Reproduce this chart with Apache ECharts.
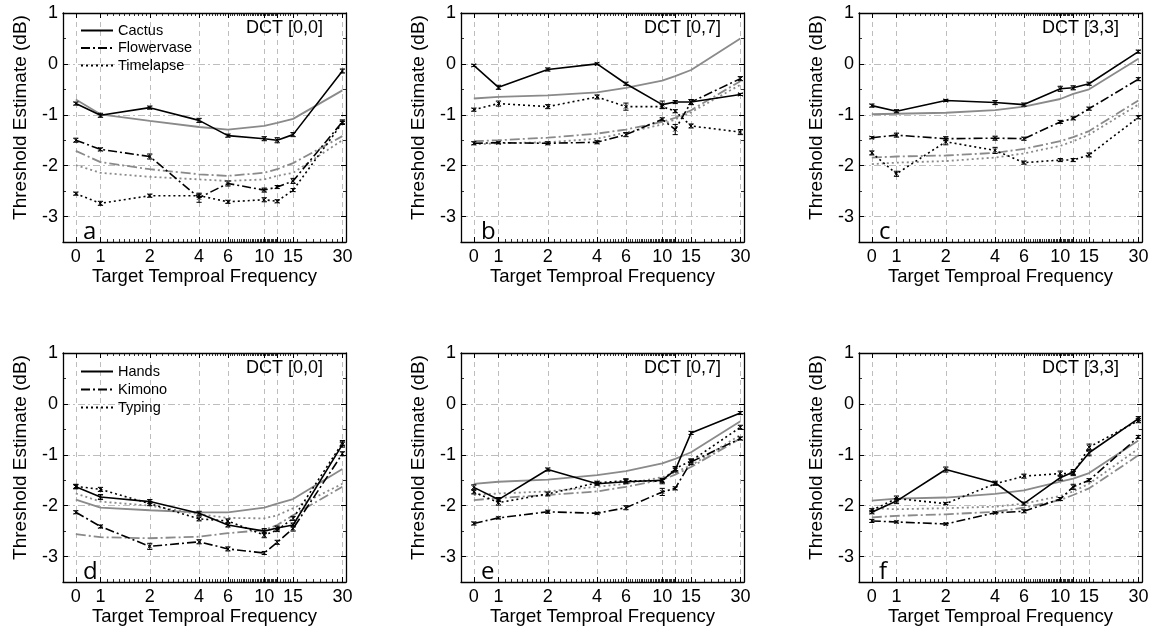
<!DOCTYPE html>
<html><head><meta charset="utf-8">
<script src="https://cdn.jsdelivr.net/npm/echarts@6/dist/echarts.min.js"></script>
<style>html,body{margin:0;padding:0;background:#fff}#c{width:1155px;height:632px}</style>
</head><body><div id="c"></div>
<script>
// ---------- categories / ticks ----------
const freqs = [0, 1, 2, 4, 6, 10, 12, 15, 30];
const majorTickFreqs = [0, 1, 2, 4, 6, 10, 12, 15, 30];
const labelFreqs = [0, 1, 2, 4, 6, 10, 15, 30];
const yTicks = [-3, -2, -1, 0, 1];
const yMinorTicks = [-3.5, -2.5, -1.5, -0.5, 0.5];
const dctTitles = ['DCT [0,0]', 'DCT [0,7]', 'DCT [3,3]', 'DCT [0,0]', 'DCT [0,7]', 'DCT [3,3]'];
const panelLetters = ['a', 'b', 'c', 'd', 'e', 'f'];
const topVideos = ['Cactus', 'Flowervase', 'Timelapse'];
const bottomVideos = ['Hands', 'Kimono', 'Typing'];

// ---------- panel a ----------
const a_cactus = [-0.78, -1.01, -0.86, -1.11, -1.41, -1.47, -1.50, -1.39, -0.14];
const a_cactus_err = [0.03, 0.04, 0.03, 0.04, 0.03, 0.04, 0.05, 0.04, 0.04];
const a_flower = [-1.50, -1.68, -1.82, -2.63, -2.35, -2.48, -2.42, -2.30, -1.14];
const a_flower_err = [0.04, 0.03, 0.05, 0.09, 0.05, 0.04, 0.03, 0.05, 0.04];
const a_time = [-2.55, -2.74, -2.59, -2.59, -2.71, -2.67, -2.70, -2.48, -1.16];
const a_time_err = [0.03, 0.04, 0.03, 0.03, 0.03, 0.04, 0.03, 0.03, 0.03];
const a_cactus_fit = [-0.70, -0.99, -1.12, -1.24, -1.29, -1.22, -1.16, -1.08, -0.52];
const a_flower_fit = [-1.71, -1.93, -2.07, -2.17, -2.20, -2.14, -2.07, -1.95, -1.42];
const a_time_fit = [-1.99, -2.14, -2.22, -2.27, -2.30, -2.27, -2.20, -2.14, -1.50];

// ---------- panel b ----------
const b_cactus = [-0.03, -0.46, -0.11, 0.00, -0.39, -0.80, -0.75, -0.75, -0.60];
const b_cactus_err = [0.02, 0.04, 0.03, 0.02, 0.03, 0.07, 0.03, 0.05, 0.02];
const b_flower = [-1.56, -1.55, -1.56, -1.54, -1.39, -1.09, -1.29, -0.75, -0.29];
const b_flower_err = [0.03, 0.02, 0.03, 0.03, 0.04, 0.03, 0.10, 0.05, 0.04];
const b_time = [-0.90, -0.78, -0.84, -0.65, -0.84, -0.84, -0.93, -1.22, -1.34];
const b_time_err = [0.03, 0.05, 0.04, 0.04, 0.07, 0.04, 0.03, 0.04, 0.05];
const b_cactus_fit = [-0.68, -0.65, -0.62, -0.56, -0.47, -0.33, -0.24, -0.12, 0.50];
const b_flower_fit = [-1.52, -1.50, -1.45, -1.37, -1.29, -1.14, -1.06, -0.91, -0.34];
const b_time_fit = [-1.58, -1.56, -1.54, -1.47, -1.35, -1.19, -1.09, -0.95, -0.41];

// ---------- panel c ----------
const c_cactus = [-0.82, -0.93, -0.72, -0.76, -0.80, -0.49, -0.47, -0.39, 0.24];
const c_cactus_err = [0.03, 0.03, 0.02, 0.04, 0.03, 0.05, 0.04, 0.03, 0.03];
const c_flower = [-1.45, -1.40, -1.47, -1.46, -1.47, -1.14, -1.07, -0.88, -0.30];
const c_flower_err = [0.02, 0.04, 0.04, 0.04, 0.03, 0.03, 0.03, 0.03, 0.03];
const c_time = [-1.75, -2.16, -1.53, -1.70, -1.94, -1.89, -1.89, -1.79, -1.05];
const c_time_err = [0.04, 0.05, 0.06, 0.06, 0.03, 0.03, 0.03, 0.04, 0.03];
const c_cactus_fit = [-0.99, -0.98, -0.96, -0.91, -0.84, -0.69, -0.59, -0.50, 0.10];
const c_flower_fit = [-1.84, -1.82, -1.80, -1.75, -1.67, -1.52, -1.44, -1.32, -0.72];
const c_time_fit = [-1.97, -1.94, -1.91, -1.84, -1.76, -1.61, -1.52, -1.39, -0.80];

// ---------- panel d ----------
const d_hands = [-1.63, -1.83, -1.92, -2.15, -2.38, -2.50, -2.44, -2.38, -0.80];
const d_hands_err = [0.04, 0.05, 0.04, 0.04, 0.04, 0.05, 0.04, 0.04, 0.05];
const d_kimono = [-2.13, -2.41, -2.80, -2.71, -2.85, -2.93, -2.72, -2.45, -0.98];
const d_kimono_err = [0.03, 0.03, 0.06, 0.04, 0.04, 0.03, 0.04, 0.05, 0.04];
const d_typing = [-1.62, -1.68, -1.96, -2.26, -2.30, -2.58, -2.48, -2.25, -0.77];
const d_typing_err = [0.04, 0.04, 0.04, 0.04, 0.04, 0.05, 0.03, 0.04, 0.05];
const d_hands_fit = [-1.88, -2.04, -2.09, -2.13, -2.13, -2.04, -1.96, -1.87, -1.28];
const d_kimono_fit = [-2.56, -2.62, -2.64, -2.61, -2.54, -2.48, -2.38, -2.19, -1.63];
const d_typing_fit = [-1.76, -1.92, -2.00, -2.17, -2.24, -2.25, -2.19, -2.05, -1.57];

// ---------- panel e ----------
const e_hands = [-1.64, -1.88, -1.29, -1.57, -1.53, -1.50, -1.30, -0.57, -0.18];
const e_hands_err = [0.05, 0.04, 0.03, 0.03, 0.04, 0.04, 0.04, 0.03, 0.03];
const e_kimono = [-2.35, -2.24, -2.12, -2.15, -2.04, -1.73, -1.66, -1.14, -0.68];
const e_kimono_err = [0.03, 0.02, 0.03, 0.02, 0.04, 0.07, 0.03, 0.05, 0.03];
const e_typing = [-1.73, -1.94, -1.77, -1.55, -1.51, -1.52, -1.27, -1.12, -0.46];
const e_typing_err = [0.04, 0.05, 0.04, 0.03, 0.04, 0.05, 0.04, 0.04, 0.04];
const e_hands_fit = [-1.57, -1.53, -1.49, -1.40, -1.32, -1.17, -1.08, -0.95, -0.34];
const e_kimono_fit = [-1.89, -1.85, -1.79, -1.72, -1.63, -1.49, -1.39, -1.24, -0.68];
const e_typing_fit = [-1.79, -1.76, -1.72, -1.63, -1.57, -1.44, -1.34, -1.21, -0.61];

// ---------- panel f ----------
const f_hands = [-2.13, -1.91, -1.29, -1.55, -1.96, -1.45, -1.34, -0.96, -0.29];
const f_hands_err = [0.03, 0.05, 0.05, 0.03, 0.03, 0.05, 0.05, 0.06, 0.04];
const f_kimono = [-2.30, -2.32, -2.36, -2.14, -2.11, -1.87, -1.63, -1.50, -0.65];
const f_kimono_err = [0.03, 0.02, 0.02, 0.02, 0.03, 0.03, 0.05, 0.03, 0.03];
const f_typing = [-2.09, -1.86, -1.96, -1.57, -1.42, -1.37, -1.37, -0.85, -0.33];
const f_typing_err = [0.03, 0.05, 0.02, 0.03, 0.04, 0.05, 0.04, 0.06, 0.04];
const f_hands_fit = [-1.90, -1.86, -1.84, -1.77, -1.70, -1.53, -1.47, -1.36, -0.72];
const f_kimono_fit = [-2.23, -2.20, -2.17, -2.12, -2.04, -1.89, -1.79, -1.66, -1.01];
const f_typing_fit = [-2.05, -2.07, -2.05, -2.02, -1.96, -1.81, -1.72, -1.57, -0.88];

const panels = [
  {names: topVideos, vals: [a_cactus, a_flower, a_time], errs: [a_cactus_err, a_flower_err, a_time_err], fits: [a_cactus_fit, a_flower_fit, a_time_fit]},
  {names: topVideos, vals: [b_cactus, b_flower, b_time], errs: [b_cactus_err, b_flower_err, b_time_err], fits: [b_cactus_fit, b_flower_fit, b_time_fit]},
  {names: topVideos, vals: [c_cactus, c_flower, c_time], errs: [c_cactus_err, c_flower_err, c_time_err], fits: [c_cactus_fit, c_flower_fit, c_time_fit]},
  {names: bottomVideos, vals: [d_hands, d_kimono, d_typing], errs: [d_hands_err, d_kimono_err, d_typing_err], fits: [d_hands_fit, d_kimono_fit, d_typing_fit]},
  {names: bottomVideos, vals: [e_hands, e_kimono, e_typing], errs: [e_hands_err, e_kimono_err, e_typing_err], fits: [e_hands_fit, e_kimono_fit, e_typing_fit]},
  {names: bottomVideos, vals: [f_hands, f_kimono, f_typing], errs: [f_hands_err, f_kimono_err, f_typing_err], fits: [f_hands_fit, f_kimono_fit, f_typing_fit]}
];

// ---------- scale helpers (log frequency axis, 0 drawn at 1/sqrt(2)) ----------
const ZERO_AT = Math.SQRT1_2;
function xPos(f) { return Math.log2(f === 0 ? ZERO_AT : f); }
const X_MIN = -0.76, X_MAX = 4.98;
const majorPos = majorTickFreqs.map(xPos);
const labelPos = labelFreqs.map(xPos);
const minorFreqs = [];
function addRange(a, b, s) { for (let k = 0; a + k * s < b - 1e-9; k++) { const v = +(a + k * s).toFixed(3); if (majorTickFreqs.indexOf(v) < 0) minorFreqs.push(v); } }
addRange(1.1, 2, 0.1); addRange(2.2, 10, 0.2); addRange(10.2, 12, 0.2); addRange(12.5, 15, 0.5); addRange(16, 30, 2);
const minorPos = minorFreqs.map(xPos);
function labelFor(v) {
  for (let i = 0; i < labelFreqs.length; i++) if (Math.abs(labelPos[i] - v) < 1e-6) return String(labelFreqs[i]);
  return '';
}

// ---------- layout ----------
const FONT = 'Liberation Sans, Arial, Helvetica, sans-serif';
const lefts = [63, 461, 859], tops = [13, 353], W = 283, H = 229;
const lineTypes = ['solid', [9, 3, 2, 3], [2, 3]];
const fitTypes = ['solid', [10, 3, 2, 3], [2, 3]];

const grid = [], xAxis = [], yAxis = [], series = [], title = [];
for (let p = 0; p < 6; p++) {
  const L = lefts[p % 3], T = tops[Math.floor(p / 3)];
  grid.push({left: L, top: T, width: W, height: H});
  const axCommon = {gridIndex: p, type: 'value', min: X_MIN, max: X_MAX};
  const blackLine = {onZero: false, lineStyle: {color: '#000', width: 1.3}};
  xAxis.push(Object.assign({}, axCommon, {
    position: 'bottom', axisLine: blackLine,
    axisTick: {inside: true, length: 5, customValues: majorPos, lineStyle: {color: '#000', width: 1}},
    axisLabel: {customValues: labelPos, formatter: labelFor, fontSize: 18, color: '#000', margin: 6, fontFamily: FONT},
    splitLine: {show: true, lineStyle: {color: '#bdbdbd', width: 1, type: [5, 4]}},
    name: 'Target Temproal Frequency', nameLocation: 'middle', nameGap: 25,
    nameTextStyle: {fontSize: 18.5, color: '#000', fontFamily: FONT}
  }));
  xAxis.push(Object.assign({}, axCommon, {
    position: 'bottom', axisLine: {show: false, onZero: false},
    axisTick: {inside: true, length: 3, customValues: minorPos, lineStyle: {color: '#000', width: 0.8}},
    axisLabel: {show: false}, splitLine: {show: false}
  }));
  xAxis.push(Object.assign({}, axCommon, {
    position: 'top', axisLine: blackLine,
    axisTick: {inside: true, length: 5, customValues: majorPos, lineStyle: {color: '#000', width: 1}},
    axisLabel: {show: false}, splitLine: {show: false}
  }));
  xAxis.push(Object.assign({}, axCommon, {
    position: 'top', axisLine: {show: false, onZero: false},
    axisTick: {inside: true, length: 3, customValues: minorPos, lineStyle: {color: '#000', width: 0.8}},
    axisLabel: {show: false}, splitLine: {show: false}
  }));
  const yCommon = {gridIndex: p, type: 'value', min: -3.5, max: 1};
  yAxis.push(Object.assign({}, yCommon, {
    position: 'left', axisLine: blackLine,
    axisTick: {inside: true, length: 5, customValues: yTicks, lineStyle: {color: '#000', width: 1}},
    axisLabel: {customValues: yTicks, fontSize: 18, color: '#000', margin: 5, fontFamily: FONT,
      formatter: v => (v < 0 ? '-' + Math.abs(v) : String(v))},
    splitLine: {show: true, lineStyle: {color: '#bdbdbd', width: 1, type: [7, 3, 2, 3]}},
    name: 'Threshold Estimate (dB)', nameLocation: 'middle', nameGap: 33,
    nameTextStyle: {fontSize: 19, color: '#000', fontFamily: FONT, padding: [0, 0, 0, 20]}
  }));
  yAxis.push(Object.assign({}, yCommon, {
    position: 'left', axisLine: {show: false, onZero: false},
    axisTick: {inside: true, length: 3, customValues: yMinorTicks, lineStyle: {color: '#000', width: 0.8}},
    axisLabel: {show: false}, splitLine: {show: false}
  }));
  yAxis.push(Object.assign({}, yCommon, {
    position: 'right', axisLine: blackLine,
    axisTick: {inside: true, length: 5, customValues: yTicks, lineStyle: {color: '#000', width: 1}},
    axisLabel: {show: false}, splitLine: {show: false}
  }));
  yAxis.push(Object.assign({}, yCommon, {
    position: 'right', axisLine: {show: false, onZero: false},
    axisTick: {inside: true, length: 3, customValues: yMinorTicks, lineStyle: {color: '#000', width: 0.8}},
    axisLabel: {show: false}, splitLine: {show: false}
  }));

  const P = panels[p];
  const xi = p * 4, yi = p * 4;
  for (let s = 0; s < 3; s++) {
    series.push({
      name: P.names[s] + ' fit', type: 'line', xAxisIndex: xi, yAxisIndex: yi, z: 2,
      data: freqs.map((f, i) => [xPos(f), P.fits[s][i]]), symbol: 'none', silent: true,
      lineStyle: {color: '#8a8a8a', width: 1.8, type: fitTypes[s]}
    });
  }
  for (let s = 0; s < 3; s++) {
    series.push({
      name: P.names[s], type: 'line', xAxisIndex: xi, yAxisIndex: yi, z: 4,
      data: freqs.map((f, i) => [xPos(f), P.vals[s][i]]), symbol: 'none',
      itemStyle: {color: '#000'},
      lineStyle: {color: '#000', width: 1.6, type: lineTypes[s]}
    });
    series.push({
      name: P.names[s] + ' err', type: 'custom', xAxisIndex: xi, yAxisIndex: yi, z: 5, silent: true,
      data: freqs.map((f, i) => [xPos(f), P.vals[s][i], P.errs[s][i]]),
      encode: {x: 0, y: 1},
      renderItem: function (params, api) {
        const x = api.value(0), y = api.value(1), e = api.value(2);
        const c = api.coord([x, y]), hi = api.coord([x, y + e]), lo = api.coord([x, y - e]);
        const cw = 2.6, m = 2;
        const st = {stroke: '#000', lineWidth: 1};
        return {type: 'group', children: [
          {type: 'line', shape: {x1: c[0], y1: hi[1], x2: c[0], y2: lo[1]}, style: st},
          {type: 'line', shape: {x1: c[0] - cw, y1: hi[1], x2: c[0] + cw, y2: hi[1]}, style: st},
          {type: 'line', shape: {x1: c[0] - cw, y1: lo[1], x2: c[0] + cw, y2: lo[1]}, style: st},
          {type: 'line', shape: {x1: c[0] - m, y1: c[1] - m, x2: c[0] + m, y2: c[1] + m}, style: st},
          {type: 'line', shape: {x1: c[0] - m, y1: c[1] + m, x2: c[0] + m, y2: c[1] - m}, style: st}
        ]};
      }
    });
  }
  title.push({
    text: dctTitles[p], right: 1155 - (L + W - 23), top: T + 6, padding: 0,
    textStyle: {fontSize: 18, fontWeight: 'normal', color: '#000', fontFamily: FONT}
  });
  title.push({
    text: panelLetters[p], left: L + 20, top: T + 207, padding: 0,
    textStyle: {fontSize: 24, fontWeight: 'normal', color: '#000', fontFamily: 'Open Sans, Noto Sans, sans-serif'}
  });
}

const legendCommon = {orient: 'vertical', padding: 0, itemWidth: 32, itemHeight: 12, selectedMode: false,
  itemStyle: {color: 'rgba(0,0,0,0)', borderColor: 'rgba(0,0,0,0)', borderWidth: 0, opacity: 0},
  textStyle: {fontSize: 14.5, color: '#000', fontFamily: FONT}};
const legend = [
  Object.assign({}, legendCommon, {data: topVideos, left: 80, top: 23, itemGap: 2.5}),
  Object.assign({}, legendCommon, {data: bottomVideos, left: 80, top: 364, itemGap: 3})
];

const chart = echarts.init(document.getElementById('c'), null, {renderer: 'canvas'});
chart.setOption({animation: false, backgroundColor: '#fff', grid, xAxis, yAxis, series, title, legend});
</script></body></html>
